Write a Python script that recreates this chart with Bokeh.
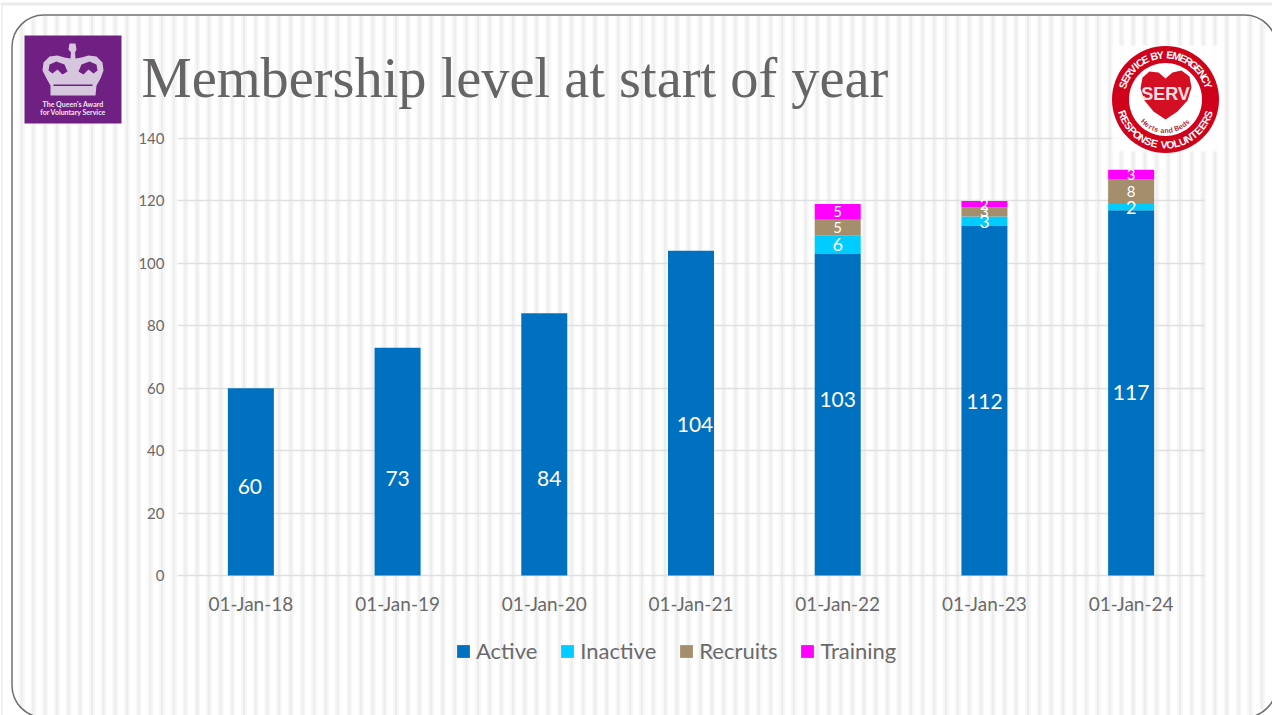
import math
from bokeh.plotting import figure
from bokeh.models import (BoxAnnotation, PolyAnnotation, Label, Legend, LegendItem, ColumnDataSource,
                          Range1d, FixedTicker)
from bokeh.core.properties import value
from bokeh.embed import file_html
from bokeh.resources import INLINE

# ---------- data ----------
categories = ["01-Jan-18", "01-Jan-19", "01-Jan-20", "01-Jan-21", "01-Jan-22", "01-Jan-23", "01-Jan-24"]
active = [60, 73, 84, 104, 103, 112, 117]
inactive = [0, 0, 0, 0, 6, 3, 2]
recruits = [0, 0, 0, 0, 5, 3, 8]
training = [0, 0, 0, 0, 5, 2, 3]
y_ticks = [0, 20, 40, 60, 80, 100, 120, 140]
series_names = ["Active", "Inactive", "Recruits", "Training"]
series_colors = ["#0070C0", "#00CCFF", "#A58E6B", "#FF00FF"]
title_text = "Membership level at start of year"

# hand-placed offsets of the Active data labels in the original (pixels)
active_label_dx = [-1, 0, 5, 4, 0, 0, 0]
active_label_dy = [5, 17, 34, 11, -15, 1, 0]

W, H = 1272, 715
FONT = "Lato"
GREY = "#6a6a6a"

# plot area of the chart, in pixels of the page
PL, PR, PT, PB = 177, 1204, 138, 575
ux = (PR - PL) / len(categories)
uy = (PB - PT) / 140
xr = Range1d(-0.5 - PL / ux, len(categories) - 0.5 + (W - PR) / ux)
yr = Range1d(-(H - PB) / uy, PB / uy)

p = figure(width=W, height=H, x_range=xr, y_range=yr, output_backend="svg", toolbar_location=None,
           min_border=0, background_fill_color="white", border_fill_color="white", outline_line_color=None)

def box(l, r, t, b, **kw):
    a = BoxAnnotation(left=l, right=r, top=t, bottom=b,
                      left_units="canvas", right_units="canvas", top_units="canvas", bottom_units="canvas", **kw)
    p.add_layout(a)
    return a

def poly(pts, color):
    a = PolyAnnotation(xs=[q[0] for q in pts], ys=[q[1] for q in pts],
                       xs_units="canvas", ys_units="canvas",
                       fill_color=color, fill_alpha=1, line_color=None)
    p.add_layout(a)
    return a

def label(x, y, text, size, color, font=FONT, style="normal", align="center", angle=0, baseline="middle", **kw):
    a = Label(x=x, y=H - y, x_units="screen", y_units="screen", text=text, text_font=font,
              text_font_size=f"{size}px", text_color=color, text_font_style=style,
              text_align=align, text_baseline=baseline, angle=angle, angle_units="deg", **kw)
    p.add_layout(a)
    return a

# ---------- slide background ----------
FL, FT, FR, FB, RAD = 11.5, 14.5, 1272, 717, 32

def stripe(x, w, color):
    mid = x + w / 2
    top, bot = FT, FB
    for edge in (FL + RAD - mid, mid - (FR - RAD)):
        if edge > 0:
            d = RAD - math.sqrt(max(RAD ** 2 - edge ** 2, 0))
            top, bot = FT + d, FB - d
    if mid < FR:
        box(x, x + w, top, bot, fill_color=color, fill_alpha=1, line_color=None, level="image")

for k in range(108):
    c = 21.2 + 11.7 * k
    stripe(c - 3, 6, "#f7f7f7")
    stripe(c - 1, 2, "#ededed")

box(FL, FR + 4, FT, FB, fill_color=None, line_color="#6f7072", line_alpha=1, line_width=1.5,
    border_radius=RAD, level="image")
box(0, W, 2, 5, fill_color="#ececec", fill_alpha=1, line_color=None, level="image")
box(1, 2, 5, H, fill_color="#e4e4e4", fill_alpha=1, line_color=None, level="image")

# ---------- chart ----------
xs = list(range(len(categories)))
src = ColumnDataSource(dict(x=xs, Active=active, Inactive=inactive, Recruits=recruits, Training=training))
bars = p.vbar_stack(series_names, x="x", width=46 / ux, color=series_colors, source=src, line_color=None)

p.xgrid.visible = False
p.ygrid.grid_line_color = "#e0e0e0"
p.ygrid.grid_line_width = 1.5
p.ygrid.level = "underlay"
p.ygrid.cross_bounds = (-0.5, len(categories) - 0.5)

p.yaxis.ticker = FixedTicker(ticks=y_ticks)
p.xaxis.ticker = FixedTicker(ticks=xs)
p.xaxis.major_label_overrides = {i: c for i, c in enumerate(categories)}
p.xaxis.fixed_location = 0
p.yaxis.fixed_location = -0.5
for ax in (p.xaxis[0], p.yaxis[0]):
    ax.axis_line_color = None
    ax.major_tick_line_color = None
    ax.minor_tick_line_color = None
    ax.major_tick_in = 0
    ax.major_tick_out = 0
    ax.minor_tick_in = 0
    ax.minor_tick_out = 0
    ax.major_label_text_font = FONT
    ax.major_label_text_color = GREY
p.yaxis.major_label_text_font_size = "15px"
p.yaxis.major_label_standoff = 13
p.xaxis.major_label_text_font_size = "19px"
p.xaxis.major_label_standoff = 16

# data labels
bottoms = [0] * len(categories)
for idx, (name, vals) in enumerate(zip(series_names, [active, inactive, recruits, training])):
    lx, ly, txt, dx, dy = [], [], [], [], []
    for i, v in enumerate(vals):
        if v:
            lx.append(i); ly.append(bottoms[i] + v / 2); txt.append(str(v))
            dx.append(active_label_dx[i] if idx == 0 else 0)
            dy.append(active_label_dy[i] if idx == 0 else 0)
        bottoms[i] += v
    s = ColumnDataSource(dict(x=lx, y=ly, t=txt, dx=dx, dy=dy))
    p.text(x="x", y="y", text="t", source=s, x_offset="dx", y_offset="dy", text_color="white",
           text_align="center", text_baseline="middle", text_font=value(FONT),
           text_font_size={0: "21px", 1: "18px"}.get(idx, "15px"))

legend = Legend(items=[LegendItem(label=n, renderers=[r]) for n, r in zip(series_names, bars)],
                orientation="horizontal", location=(455, 51), glyph_width=16, glyph_height=16,
                label_standoff=5, spacing=22, padding=0, margin=0, border_line_color=None,
                background_fill_alpha=0, label_text_font=FONT, label_text_font_size="22px",
                label_text_color=GREY)
p.add_layout(legend, "center")

# ---------- title ----------
label(141, 77, title_text, 56.4, "#666464", font="Liberation Serif", align="left")

# ---------- Queen's Award badge ----------
box(24, 121, 35, 123, fill_color="#702082", fill_alpha=1, line_color=None)
LILAC = "#d6c6de"
PURPLE = "#702082"
poly([(69, 43), (75, 43), (76, 49), (74.5, 52), (75, 58), (81, 57), (88, 55), (96, 56), (102, 62), (103, 70), (100, 78),
      (96, 85), (95, 95), (50, 95), (50, 85), (46, 78), (42, 70), (43, 62), (49, 56), (57, 55), (64, 57), (70, 58),
      (70.5, 52), (68, 49)], LILAC)
poly([(49, 64), (56, 61), (64, 64), (67, 71), (62, 74), (57, 69), (52, 73), (48, 70)], PURPLE)
poly([(96, 64), (89, 61), (81, 64), (78, 71), (83, 74), (88, 69), (93, 73), (97, 70)], PURPLE)
poly([(53, 84), (92, 84), (92, 85.5), (53, 85.5)], PURPLE)
label(72.5, 103.5, "The Queen's Award", 7, "#eee6f0", style="bold")
label(72.5, 111.5, "for Voluntary Service", 7, "#eee6f0", style="bold")

# ---------- SERV badge ----------
CX, CY, R_OUT, R_IN = 1165, 99, 53.5, 36.5
RED = "#d0021b"
box(1112, 1219, 45, 151, fill_color="white", fill_alpha=0.85, line_color=None)

def circle_pts(r, n=72):
    return [(CX + r * math.cos(2 * math.pi * i / n), CY + r * math.sin(2 * math.pi * i / n)) for i in range(n)]

poly(circle_pts(R_OUT), RED)
poly(circle_pts(R_IN), "white")
poly([(1165, 119), (1153, 111), (1144, 100), (1140, 88), (1142, 77), (1149, 71), (1158, 72), (1165, 78), (1172, 72),
      (1181, 70), (1189, 76), (1191, 87), (1187, 100), (1177, 111)], "#d40f24")
label(1165, 93, "SERV", 18, "#fbdfe3", font="Liberation Sans", style="bold")

def arc_text(text, r, span, top, size, color):
    weights = [0.55 if c in " Iilt" else (1.25 if c in "MW" else 1.0) for c in text]
    total = sum(weights) - (weights[0] + weights[-1]) / 2
    pos = 0.0
    for i, ch in enumerate(text):
        if i:
            pos += (weights[i - 1] + weights[i]) / 2
        t = -span / 2 + span * pos / total
        a = math.radians(t)
        if top:
            label(CX + r * math.sin(a), CY - r * math.cos(a), ch, size, color, font="Liberation Sans", style="bold", angle=-t)
        else:
            label(CX + r * math.sin(a), CY + r * math.cos(a), ch, size, color, font="Liberation Sans", style="bold", angle=t)

arc_text("SERVICE BY EMERGENCY", 45, 142, True, 10.5, "white")
arc_text("RESPONSE VOLUNTEERS", 45, 142, False, 10.5, "white")
arc_text("Herts and Beds", 31, 88, False, 7, "#b8283a")

open("out.html", "w").write(file_html(p, INLINE))
